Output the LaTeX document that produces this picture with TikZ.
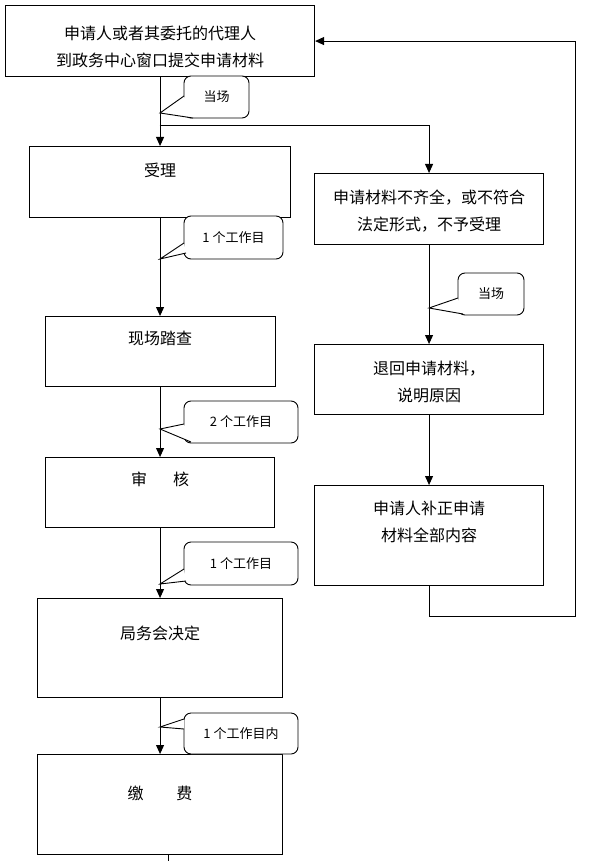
\documentclass[tikz,border=0pt]{standalone}
\usepackage{fontspec}
\setmainfont{Noto Sans CJK SC}
\usetikzlibrary{arrows.meta}

\tikzset{
  box/.style={draw, line width=1.1pt, anchor=north west, inner sep=0pt},
  txt/.style={align=center, inner sep=0pt, font=\fontsize{16pt}{27pt}\selectfont},
  tag/.style={draw, line width=0.9pt, rounded corners=7pt, fill=white, inner sep=0pt,
              font=\fontsize{13pt}{15pt}\selectfont},
  wedge/.style={draw, line width=0.9pt, fill=white},
  arrow/.style={line width=0.9pt, -{Triangle[length=9pt,width=8pt]}},
}

\begin{document}
\begin{tikzpicture}[x=1pt,y=-1pt]
      \useasboundingbox (0,0) rectangle (592,861);
      \coordinate (split) at (159.5,125);
      \coordinate (loop) at (575,616);
      \coordinate (tail) at (168,861);

      % BOXES, LEFT
      \node[box, minimum width=309pt, minimum height=71pt] (apply) at (5,5) {};
      \node[box, minimum width=261pt, minimum height=71pt] (accept) at (29,146) {};
      \node[box, minimum width=230pt, minimum height=70pt] (survey) at (44.5,316) {};
      \node[box, minimum width=229pt, minimum height=70pt] (review) at (45,457) {};
      \node[box, minimum width=245pt, minimum height=99pt] (decide) at (37,598) {};
      \node[box, minimum width=245pt, minimum height=100pt] (fee) at (37,754) {};

      % BOXES, RIGHT
      \node[box, minimum width=229pt, minimum height=71pt] (reject) at (314,173) {};
      \node[box, minimum width=229pt, minimum height=70pt] (return) at (314,344) {};
      \node[box, minimum width=229pt, minimum height=100pt] (supply) at (314,485) {};

      % TEXTS
      \node[txt] (apply-t) at (160,47) {申请人或者其委托的代理人\\到政务中心窗口提交申请材料};
      \node[txt] (accept-t) at (160,170) {受理};
      \node[txt] (survey-t) at (160,338) {现场踏查};
      \node[txt] (review-t) at (160,479) {审\hspace{26pt}核};
      \node[txt] (decide-t) at (160,633) {局务会决定};
      \node[txt] (fee-t) at (160,793) {缴\hspace{33pt}费};
      \node[txt] (reject-t) at (429,211.5) {申请材料不齐全，或不符合\\法定形式，不予受理};
      \node[txt] (return-t) at (429,381.5) {退回申请材料，\\说明原因};
      \node[txt] (supply-t) at (429,521.5) {申请人补正申请\\材料全部内容};

      % ARROWS
      \draw[arrow] (apply) -- (accept);
      \draw[arrow] (split) -| (reject);
      \draw[arrow] (accept) -- (survey);
      \draw[arrow] (survey) -- (review);
      \draw[arrow] (review) -- (decide);
      \draw[arrow] (decide) -- (fee);
      \draw[arrow] (reject) -- (return);
      \draw[arrow] (return) -- (supply);
      \draw[arrow] (supply) |- (loop) |- (apply);
      \draw[line width=0.9pt] (tail |- fee.south) -- (tail);

      % NOTES
      \node[tag, minimum width=65pt, minimum height=42pt] (t1) at (216.5,97) {当场};
      \draw[wedge] (184,96) -- (160,113) -- (193,118);
      \node[tag, minimum width=99pt, minimum height=43pt] (t2) at (233.5,237.5) {1 个工作目};
      \draw[wedge] (184,243) -- (160,259) -- (186,253);
      \node[tag, minimum width=114pt, minimum height=42pt] (t3) at (241,422) {2 个工作目\hspace{14pt}};
      \draw[wedge] (184,424) -- (160,429) -- (191,442);
      \node[tag, minimum width=114pt, minimum height=43pt] (t4) at (241,563.5) {1 个工作目\hspace{14pt}};
      \draw[wedge] (184,569) -- (160,584) -- (186,581);
      \node[tag, minimum width=114pt, minimum height=41pt] (t5) at (241,733.5) {1 个工作目内};
      \draw[wedge] (184,719) -- (160,727) -- (184,729);
      \node[tag, minimum width=66pt, minimum height=42pt] (t6) at (491,294) {当场};
      \draw[wedge] (458,298) -- (429,308) -- (463,314);
\end{tikzpicture}
\end{document}
